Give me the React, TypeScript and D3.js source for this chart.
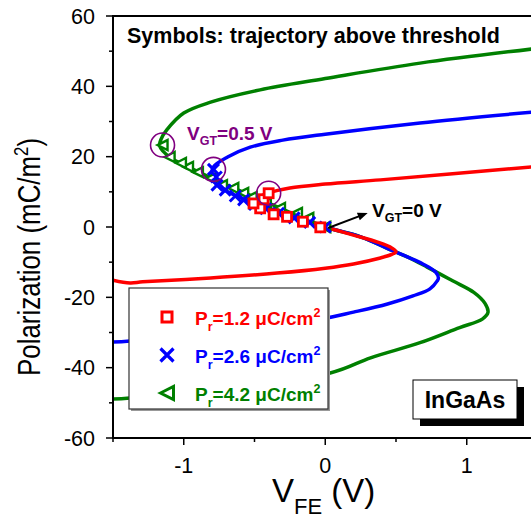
import React from 'react';
import * as d3 from 'd3';

// curves: [V_FE (V), P (mC/m2)], ordered along the S-curve
const redCurve: [number, number][] = [
  [-1.5, -15.1], [-1.38, -15.9], [-1.29, -15.6], [-0.81, -14.5], [-0.34, -13.1], [0, -11.7],
  [0.2, -10.5], [0.39, -8.8], [0.47, -7.8], [0.5, -7.0], [0.46, -5.7], [0.37, -4.3],
  [0.2, -2.3], [0, 0], [-0.2, 2.6], [-0.4, 5.2], [-0.5, 7.0], [-0.47, 8.4], [-0.4, 9.7],
  [-0.25, 11.1], [0, 12.2], [0.39, 13.4], [0.88, 15.1], [1.5, 17.2],
];
const blueCurve: [number, number][] = [
  [-1.5, -32.7], [-1.38, -32.4], [-0.035, -26.2], [0.2, -24.2], [0.44, -21.9], [0.62, -19.6],
  [0.74, -17.6], [0.79, -15.4], [0.8, -14.5], [0.78, -12.8], [0.69, -10.5], [0.58, -8.5],
  [0.48, -6.8], [0.25, -2.8], [0, 0], [-0.3, 4.0], [-0.58, 8.0], [-0.76, 11.9], [-0.8, 15.0],
  [-0.79, 17.1], [-0.69, 19.9], [-0.53, 22.7], [-0.3, 24.7], [0, 26.4], [0.67, 29.6], [1.5, 32.8],
];
const greenCurve: [number, number][] = [
  [-1.5, -48.9], [-1.38, -48.6], [0.035, -41.5], [0.32, -37.2], [0.67, -32.9], [0.95, -28.6],
  [1.11, -26.2], [1.15, -24.3], [1.13, -21.8], [1.05, -18.6], [0.9, -15.3], [0.72, -11.4],
  [0.58, -8.5], [0.48, -6.8], [0.25, -2.8], [0, 0], [-0.32, 5.4], [-0.65, 11.1], [-0.97, 17.1],
  [-1.1, 19.9], [-1.17, 23.0], [-1.16, 25.0], [-1.12, 27.6], [-1.0, 32.4], [-0.81, 35.5],
  [-0.46, 39.0], [0, 42.2], [0.67, 46.6], [1.5, 50.8],
];

// trajectory symbols
const redSquares: [number, number][] = [
  [-0.035, -0.1], [-0.158, 1.5], [-0.27, 2.9], [-0.365, 3.6], [-0.46, 5.3], [-0.507, 6.7],
  [-0.436, 7.9], [-0.4, 9.6],
];
const blueCrosses: [number, number][] = [
  [0, 0], [-0.11, 1.3], [-0.22, 2.6], [-0.33, 3.9], [-0.42, 5.2], [-0.5, 6.4],
  [-0.577, 7.7], [-0.636, 8.8], [-0.707, 10.5], [-0.765, 11.9], [-0.77, 14.2], [-0.79, 16.4],
];
const greenTriangles: [number, number][] = [
  [0, 0], [-0.12, 2.6], [-0.2, 4.0], [-0.32, 5.4], [-0.42, 6.8], [-0.52, 8.5], [-0.58, 9.7],
  [-0.65, 11.1], [-0.73, 11.9], [-0.81, 13.9], [-0.9, 15.6], [-0.97, 17.1], [-1.02, 18.2],
  [-1.1, 19.9], [-1.15, 23.3],
];
// the V_GT = 0.5 V points (circled)
const circled: [number, number][] = [[-1.15, 23.3], [-0.79, 16.4], [-0.4, 9.6]];

const legendLabels = ['1.2', '2.6', '4.2'];
const xMajor = [-1, 0, 1];
const xMinor = [-1.5, -0.5, 0.5, 1.5];
const yMajor = [-60, -40, -20, 0, 20, 40, 60];
const yMinor = [-50, -30, -10, 10, 30, 50];

const RED = '#ff0000';
const BLUE = '#0000ff';
const GREEN = '#008000';
const PURPLE = '#800080';
const FONT = 'Arial, "Liberation Sans", sans-serif';

const W = 531;
const H = 517;
const left = 113;
const top = 16;
const bottom = 438;

const x = d3.scaleLinear().domain([-1.5, 1.5]).range([left, left + 3 * 141.5]);
const y = d3.scaleLinear().domain([-60, 60]).range([bottom, top]);

const line = d3.line<[number, number]>()
  .x(d => x(d[0]))
  .y(d => y(d[1]))
  .curve(d3.curveCatmullRom.alpha(0.5));

const Square = ({cx, cy, s, color, sw}: any) => (
  <rect x={cx - s / 2} y={cy - s / 2} width={s} height={s} fill="white" stroke={color} strokeWidth={sw} />
);
const Cross = ({cx, cy, s, color, sw}: any) => (
  <path d={`M${cx - s / 2},${cy - s / 2}L${cx + s / 2},${cy + s / 2}M${cx - s / 2},${cy + s / 2}L${cx + s / 2},${cy - s / 2}`}
    stroke={color} strokeWidth={sw} fill="none" />
);
const Tri = ({cx, cy, s, color, sw}: any) => (
  <path d={`M${cx - s / 2},${cy}L${cx + s / 2},${cy - s / 2}L${cx + s / 2},${cy + s / 2}Z`}
    stroke={color} strokeWidth={sw} fill="white" strokeLinejoin="miter" />
);

export default function App() {
  const legendColors = [RED, BLUE, GREEN];
  const ax = x(0.02), ay = y(-0.3), bx = x(0.3), by = y(4.0);
  const ang = Math.atan2(by - ay, bx - ax);
  const ah = 10, aw = 4;
  const head = `M${bx},${by}L${bx - ah * Math.cos(ang) + aw * Math.sin(ang)},${by - ah * Math.sin(ang) - aw * Math.cos(ang)}L${bx - ah * Math.cos(ang) - aw * Math.sin(ang)},${by - ah * Math.sin(ang) + aw * Math.cos(ang)}Z`;

  return (
    <div style={{position: 'absolute', left: 0, top: 0}}>
      <svg width={W} height={H} style={{display: 'block', background: 'white'}} fontFamily={FONT}>
        <defs>
          <clipPath id="plot">
            <rect x={left} y={top} width={W - left} height={bottom - top} />
          </clipPath>
        </defs>

        <g clipPath="url(#plot)">
          <path d={line(greenCurve) || ''} fill="none" stroke={GREEN} strokeWidth={3.5} />
          <path d={line(blueCurve) || ''} fill="none" stroke={BLUE} strokeWidth={3.5} />
          <path d={line(redCurve) || ''} fill="none" stroke={RED} strokeWidth={3.5} />

          {greenTriangles.map((d, i) => (
            <Tri key={'g' + i} cx={x(d[0])} cy={y(d[1])} s={10} color={GREEN} sw={2.4} />
          ))}
          {blueCrosses.map((d, i) => (
            <Cross key={'b' + i} cx={x(d[0])} cy={y(d[1])} s={11} color={BLUE} sw={3} />
          ))}
          {redSquares.map((d, i) => (
            <Square key={'r' + i} cx={x(d[0])} cy={y(d[1])} s={9} color={RED} sw={2.8} />
          ))}
          {circled.map((d, i) => (
            <circle key={'c' + i} cx={x(d[0])} cy={y(d[1])} r={12} fill="none" stroke={PURPLE} strokeWidth={1.6} />
          ))}

          <line x1={ax} y1={ay} x2={bx - 6 * Math.cos(ang)} y2={by - 6 * Math.sin(ang)} stroke="black" strokeWidth={2} />
          <path d={head} fill="black" />
        </g>

        {/* annotations */}
        <text x={127} y={43} fontSize={21.5} fontWeight="bold" fill="black">Symbols: trajectory above threshold</text>
        <text x={187} y={140} fontSize={19} fontWeight="bold" fill={PURPLE}>
          V<tspan fontSize={12.5} dy={5}>GT</tspan><tspan dy={-5}>=0.5 V</tspan>
        </text>
        <text x={372} y={217} fontSize={19} fontWeight="bold" fill="black">
          V<tspan fontSize={12.5} dy={5}>GT</tspan><tspan dy={-5}>=0 V</tspan>
        </text>

        {/* legend */}
        <rect x={131} y={290} width={199} height={121} fill="#999" />
        <rect x={129} y={288} width={199} height={121} fill="white" stroke="#333" strokeWidth={1.2} />
        {legendLabels.map((lab, i) => {
          const cy = 317 + i * 38;
          const c = legendColors[i];
          return (
            <g key={lab}>
              {i === 0 && <Square cx={167} cy={cy} s={10} color={c} sw={3} />}
              {i === 1 && <Cross cx={167} cy={cy} s={13} color={c} sw={3.2} />}
              {i === 2 && <Tri cx={167} cy={cy} s={13} color={c} sw={3} />}
              <text x={195} y={cy + 8} fontSize={19} fontWeight="bold" fill={c}>
                P<tspan fontSize={12.5} dy={6}>r</tspan><tspan dy={-6}>={lab} μC/cm</tspan><tspan fontSize={12.5} dy={-8}>2</tspan>
              </text>
            </g>
          );
        })}

        {/* InGaAs tag */}
        <rect x={420} y={387} width={104} height={39} fill="black" />
        <rect x={413} y={380} width={104} height={39} fill="white" stroke="black" strokeWidth={1} />
        <text x={465} y={408} fontSize={23} fontWeight="bold" textAnchor="middle" fill="black">InGaAs</text>

        {/* axes */}
        <line x1={left} y1={top} x2={W} y2={top} stroke="black" strokeWidth={2} />
        <line x1={left} y1={top - 1} x2={left} y2={bottom + 1} stroke="black" strokeWidth={2} />
        <line x1={left - 1} y1={bottom} x2={W} y2={bottom} stroke="black" strokeWidth={2} />

        {yMajor.map(v => (
          <g key={'ym' + v}>
            <line x1={left - 7} x2={left} y1={y(v)} y2={y(v)} stroke="black" strokeWidth={1.5} />
            <text x={95} y={y(v) + 7.5} fontSize={21.5} textAnchor="end" fill="black">{v}</text>
          </g>
        ))}
        {yMinor.map(v => (
          <line key={'yn' + v} x1={left - 4} x2={left} y1={y(v)} y2={y(v)} stroke="black" strokeWidth={1.5} />
        ))}
        {xMajor.map(v => (
          <g key={'xm' + v}>
            <line x1={x(v)} x2={x(v)} y1={bottom} y2={bottom + 7} stroke="black" strokeWidth={1.5} />
            <text x={x(v)} y={473} fontSize={21.5} textAnchor="middle" fill="black">{v}</text>
          </g>
        ))}
        {xMinor.map(v => (
          <line key={'xn' + v} x1={x(v)} x2={x(v)} y1={bottom} y2={bottom + 4} stroke="black" strokeWidth={1.5} />
        ))}

        {/* axis titles */}
        <text x={272} y={502} fontSize={33} fill="black">
          V<tspan fontSize={22} dy={12}>FE</tspan><tspan dy={-12}> (V)</tspan>
        </text>
        <text transform="translate(40,257) rotate(-90)" fontSize={31} textAnchor="middle" fill="black"
          textLength={238} lengthAdjust="spacingAndGlyphs">
          Polarization (mC/m<tspan fontSize={20} dy={-12}>2</tspan><tspan dy={12}>)</tspan>
        </text>
      </svg>
    </div>
  );
}
